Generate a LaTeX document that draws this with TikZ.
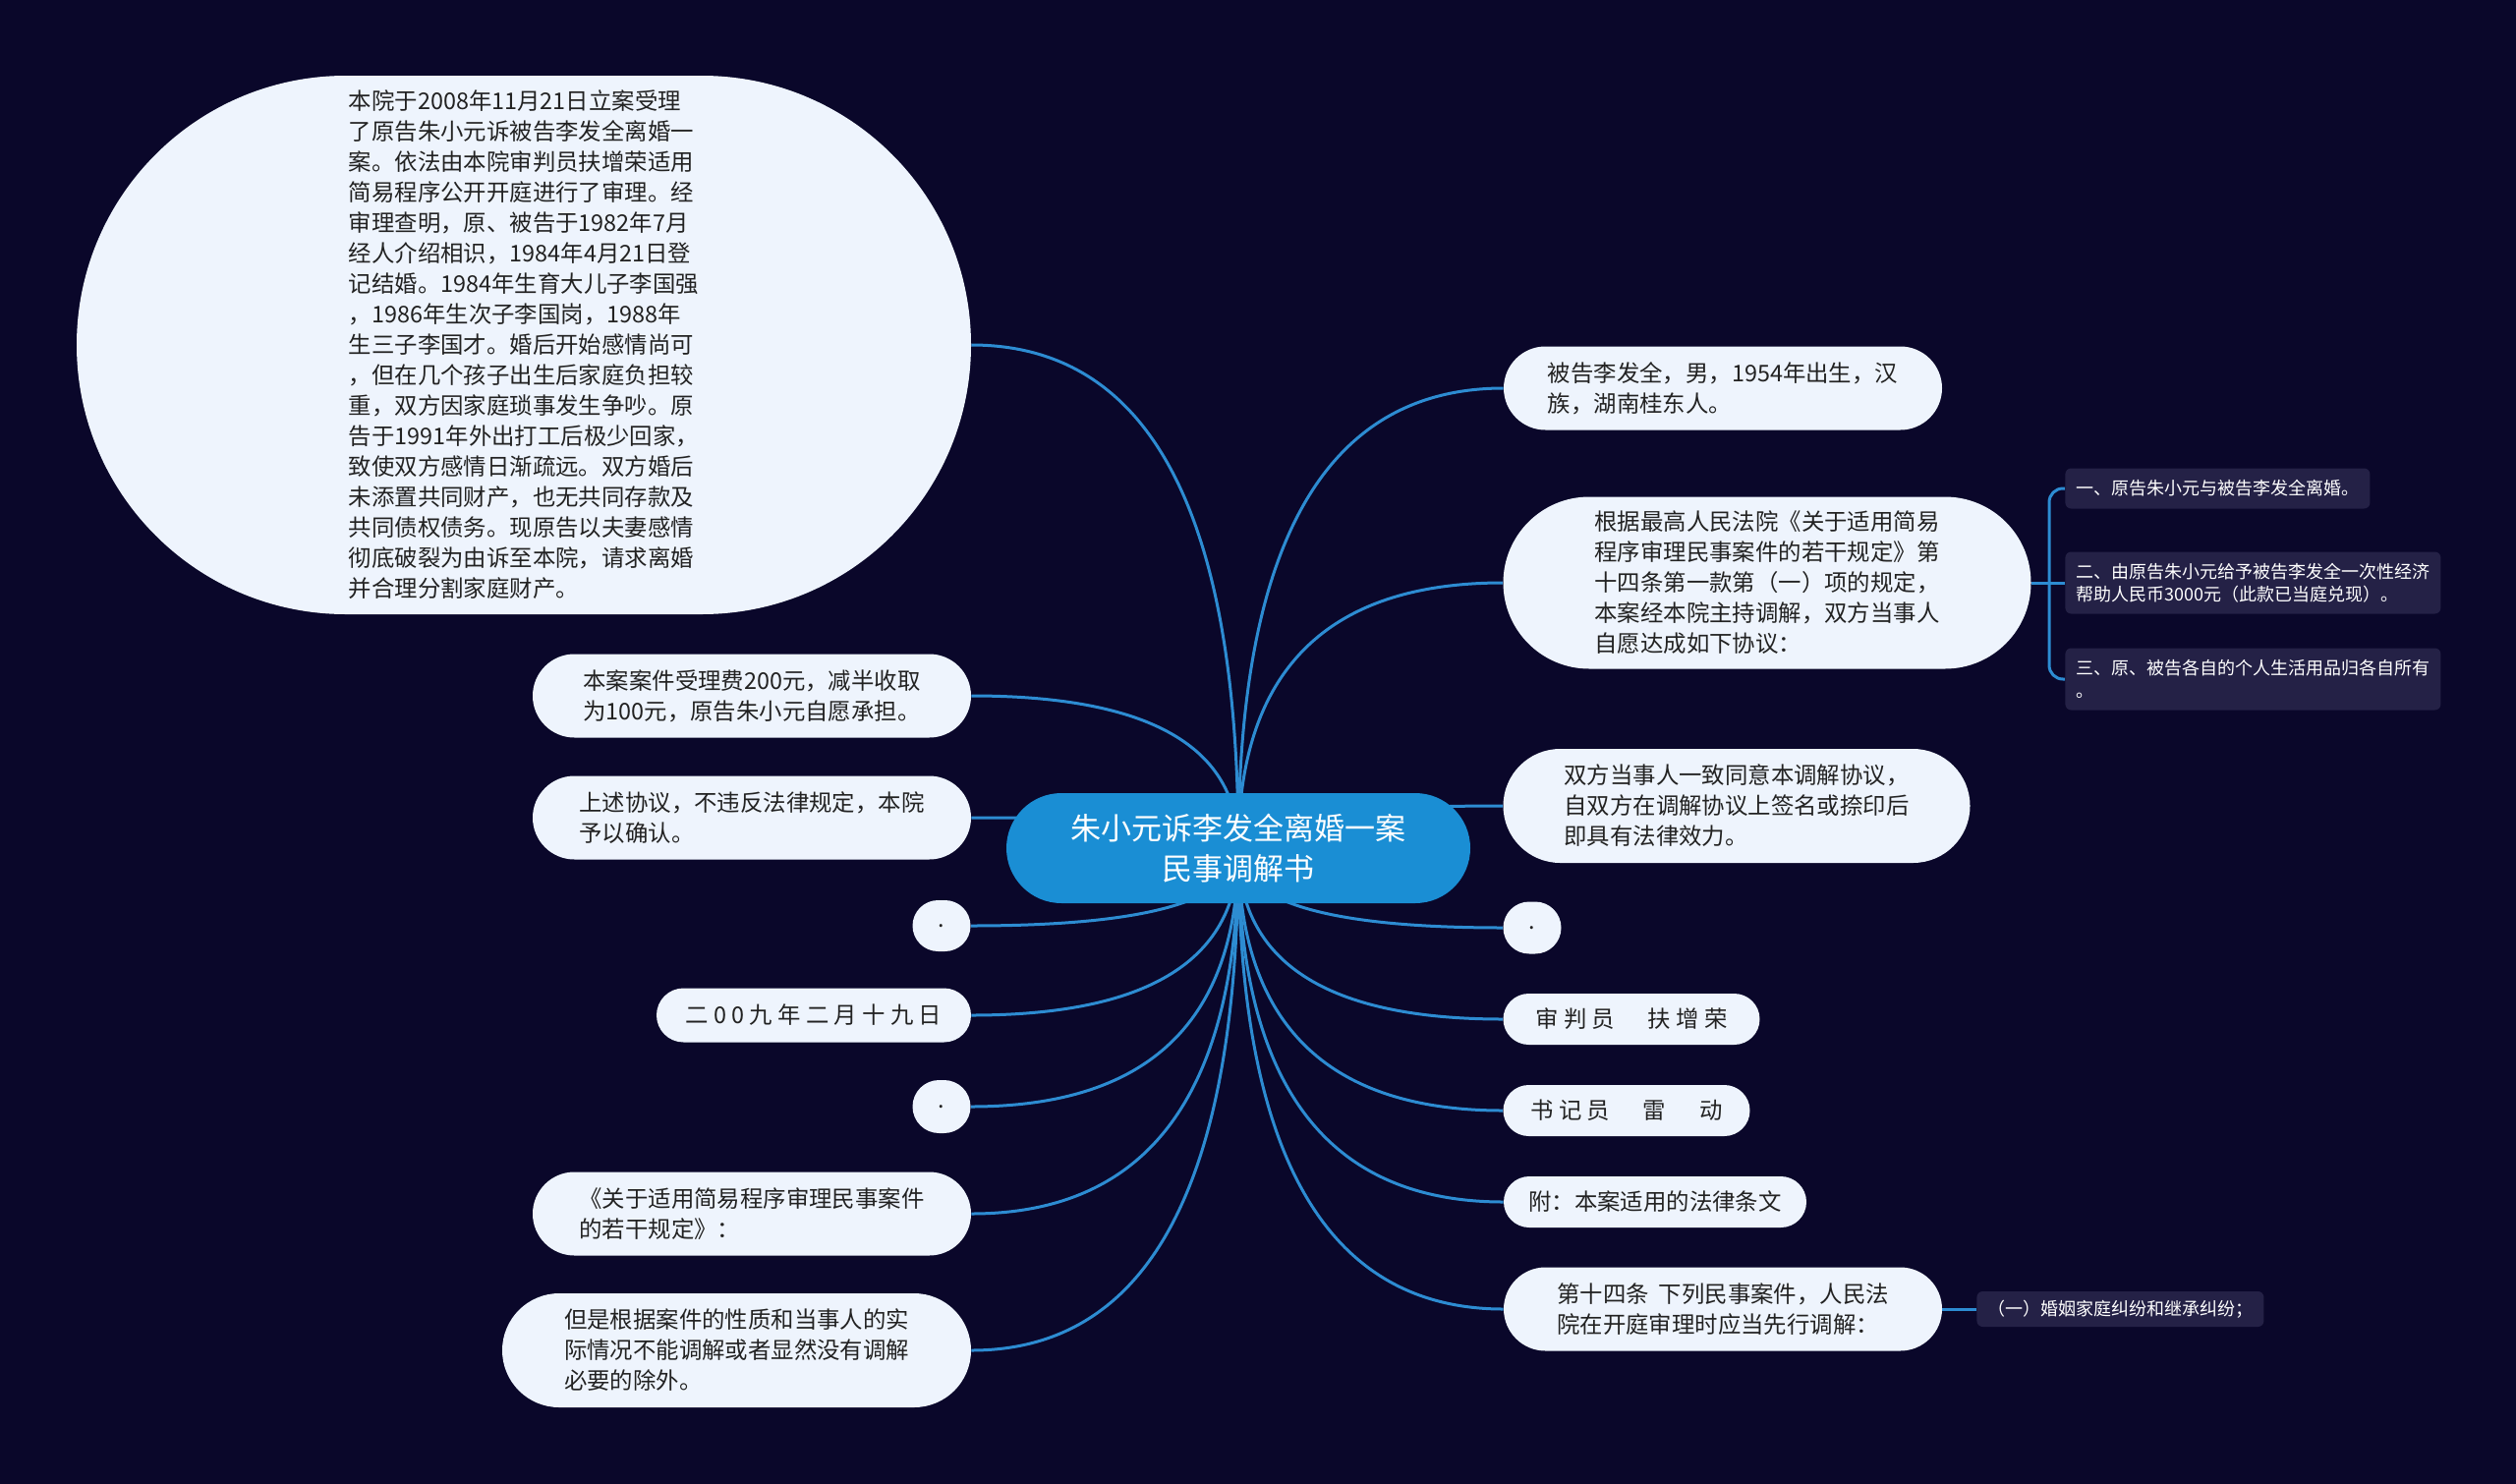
\documentclass[tikz,border=0pt]{standalone}
\usepackage{fontspec}
\setmainfont{Noto Sans CJK SC}
\usetikzlibrary{shapes.misc,calc}
\definecolor{bgc}{RGB}{10,7,42}
\definecolor{linec}{RGB}{45,140,210}
\definecolor{ctrc}{RGB}{26,142,212}
\definecolor{leafc}{RGB}{238,244,253}
\definecolor{darkc}{RGB}{36,33,70}
\definecolor{txtc}{RGB}{34,34,34}
\pgfdeclarelayer{back}
\pgfdeclarelayer{mid}
\pgfsetlayers{back,mid,main}
\newcommand\mmconn[2]{\draw[conn] (#1) .. controls ($(#1)!0.667!(#1 |- #2)$) and ($(#2)!0.667!(#1 |- #2)$) .. (#2);}
\begin{document}
\begin{tikzpicture}[x=0.5pt,y=-0.5pt,
  leaf/.style={shape=rounded rectangle, fill=leafc, text=txtc, align=left, inner sep=0pt,
    font=\fontsize{11.7pt}{15.5pt}\selectfont},
  ctr/.style={shape=rounded rectangle, fill=ctrc, text=white, align=center, inner sep=0pt,
    font=\fontsize{15.5pt}{20.5pt}\selectfont},
  dleaf/.style={shape=rectangle, rounded corners=3pt, fill=darkc, text=white, align=left,
    inner xsep=5.5pt, inner ysep=0pt, anchor=west,
    font=\fontsize{9pt}{11.5pt}\selectfont},
  conn/.style={draw=linec, line width=1.5pt},
  ]
\useasboundingbox (0,0) rectangle (2560,1510);
\begin{pgfonlayer}{back}
\fill[bgc] (0,0) rectangle (2560,1510);
\end{pgfonlayer}

% central
\node[ctr, minimum width=236pt, minimum height=56pt] (C) at (1260,863)
  {朱小元诉李发全离婚一案\\民事调解书};

% left side
\node[leaf, minimum width=455pt, minimum height=274pt] (L0) at (533,351) {本院于2008年11月21日立案受理\\
了原告朱小元诉被告李发全离婚一\\
案。依法由本院审判员扶增荣适用\\
简易程序公开开庭进行了审理。经\\
审理查明，原、被告于1982年7月\\
经人介绍相识，1984年4月21日登\\
记结婚。1984年生育大儿子李国强\\
，1986年生次子李国岗，1988年\\
生三子李国才。婚后开始感情尚可\\
，但在几个孩子出生后家庭负担较\\
重，双方因家庭琐事发生争吵。原\\
告于1991年外出打工后极少回家，\\
致使双方感情日渐疏远。双方婚后\\
未添置共同财产，也无共同存款及\\
共同债权债务。现原告以夫妻感情\\
彻底破裂为由诉至本院，请求离婚\\
并合理分割家庭财产。};
\node[leaf, minimum width=223pt, minimum height=42.5pt] (L1) at (765,708)
  {本案案件受理费200元，减半收取\\为100元，原告朱小元自愿承担。};
\node[leaf, minimum width=223pt, minimum height=42.5pt] (L2) at (765,832)
  {上述协议，不违反法律规定，本院\\予以确认。};
\node[leaf, minimum width=29.5pt, minimum height=26pt] (L3) at (958,942) {.};
\node[leaf, minimum width=160pt, minimum height=27.5pt] (L4) at (828,1033)
  {二 0 0 九 年 二 月 十 九 日};
\node[leaf, minimum width=29.5pt, minimum height=27pt] (L5) at (958,1126) {.};
\node[leaf, minimum width=223pt, minimum height=42.5pt] (L6) at (765,1235)
  {《关于适用简易程序审理民事案件\\的若干规定》：};
\node[leaf, minimum width=238.5pt, minimum height=58pt] (L7) at (749.5,1374)
  {但是根据案件的性质和当事人的实\\际情况不能调解或者显然没有调解\\必要的除外。};

% right side
\node[leaf, minimum width=223pt, minimum height=42.5pt] (R1) at (1753,395)
  {被告李发全，男，1954年出生，汉\\族，湖南桂东人。};
\node[leaf, minimum width=268.5pt, minimum height=87.5pt] (R2) at (1798,593)
  {根据最高人民法院《关于适用简易\\程序审理民事案件的若干规定》第\\十四条第一款第（一）项的规定，\\本案经本院主持调解，双方当事人\\自愿达成如下协议：};
\node[leaf, minimum width=237.5pt, minimum height=58pt] (R3) at (1767,820)
  {双方当事人一致同意本调解协议，\\自双方在调解协议上签名或捺印后\\即具有法律效力。};
\node[leaf, minimum width=29.5pt, minimum height=26.5pt] (R4) at (1559,944) {.};
\node[leaf, minimum width=130.5pt, minimum height=26pt] (R5) at (1660,1037)
  {审 判 员 　 扶 增 荣};
\node[leaf, minimum width=125.5pt, minimum height=26pt] (R6) at (1655,1130)
  {书 记 员 　 雷 　 动};
\node[leaf, minimum width=154pt, minimum height=26pt] (R7) at (1684,1223)
  {附：本案适用的法律条文};
\node[leaf, minimum width=223pt, minimum height=42.5pt] (R8) at (1753,1332)
  {第十四条\hspace{5pt}下列民事案件，人民法\\院在开庭审理时应当先行调解：};

% far right
\node[dleaf, minimum width=154.5pt, minimum height=20.5pt] (F1) at (2101,497)
  {一、原告朱小元与被告李发全离婚。};
\node[dleaf, minimum width=190.5pt, minimum height=31.5pt] (F2) at (2101,593)
  {二、由原告朱小元给予被告李发全一次性经济\\帮助人民币3000元（此款已当庭兑现）。};
\node[dleaf, minimum width=190.5pt, minimum height=31.5pt] (F3) at (2101,691)
  {三、原、被告各自的个人生活用品归各自所有\\。};
\node[dleaf, minimum width=144pt, minimum height=18pt] (F4) at (2011,1332)
  {（一）婚姻家庭纠纷和继承纠纷；};

\coordinate (brk) at (2085,593);

\begin{pgfonlayer}{mid}
\mmconn{C.center}{L0.east}
\mmconn{C.center}{L1.east}
\mmconn{C.center}{L2.east}
\mmconn{C.center}{L3.east}
\mmconn{C.center}{L4.east}
\mmconn{C.center}{L5.east}
\mmconn{C.center}{L6.east}
\mmconn{C.center}{L7.east}
\mmconn{C.center}{R1.west}
\mmconn{C.center}{R2.west}
\mmconn{C.center}{R3.west}
\mmconn{C.center}{R4.west}
\mmconn{C.center}{R5.west}
\mmconn{C.center}{R6.west}
\mmconn{C.center}{R7.west}
\mmconn{C.center}{R8.west}
\draw[conn] (R2.east) -- (brk);
\draw[conn, rounded corners=7pt] (brk) |- (F1.west);
\draw[conn] (brk) -- (F2.west);
\draw[conn, rounded corners=7pt] (brk) |- (F3.west);
\draw[conn] (R8.east) -- (F4.west);
\end{pgfonlayer}
\end{tikzpicture}
\end{document}
